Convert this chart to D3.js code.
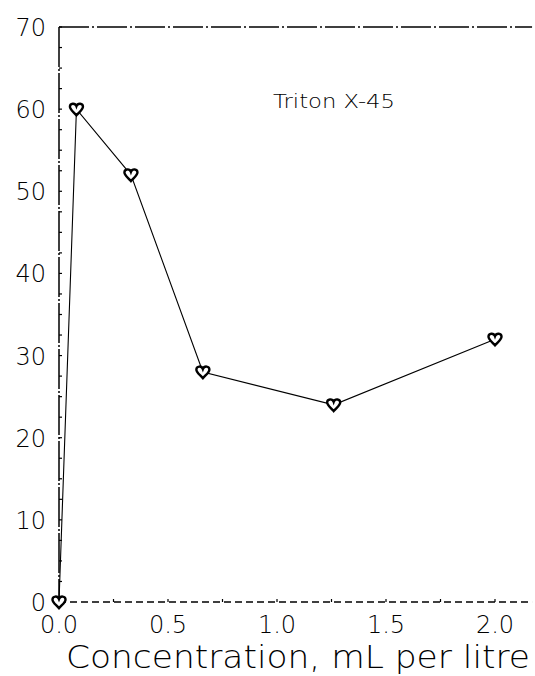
<!DOCTYPE html>
<html><head><meta charset="utf-8">
<script src="https://cdn.jsdelivr.net/npm/d3@7"></script>
<style>html,body{margin:0;padding:0;background:#fff;}svg{display:block;}</style>
</head><body>
<svg id="chart" width="535" height="676"></svg>
<script>
const concentration = [0.0, 0.08, 0.33, 0.66, 1.26, 2.0];
const values = [0, 60, 52, 28, 24, 32];
const xTickValues = [0.0, 0.5, 1.0, 1.5, 2.0];
const xTickLabels = ["0.0", "0.5", "1.0", "1.5", "2.0"];
const yTickValues = [0, 10, 20, 30, 40, 50, 60, 70];
const seriesLabel = "Triton X-45";
const xAxisTitle = "Concentration, mL per litre";

(function () {
const svg = d3.select("#chart");
const mLeft = 59, mTop = 27, mBottom = 602;
const x = d3.scaleLinear().domain([0, 2.0]).range([mLeft, 495]);
const y = d3.scaleLinear().domain([0, 70]).range([mBottom, mTop]);
const xEnd = x(2.17);

// frame
svg.append("line").attr("x1", mLeft).attr("x2", mLeft).attr("y1", mTop).attr("y2", mBottom)
  .attr("stroke", "#000").attr("stroke-width", 1.5).attr("stroke-dasharray", "40,2,2,2");
svg.append("line").attr("x1", mLeft).attr("x2", xEnd).attr("y1", mTop).attr("y2", mTop)
  .attr("stroke", "#000").attr("stroke-width", 1.3).attr("stroke-dasharray", "30,3,2,3");
svg.append("line").attr("x1", mLeft).attr("x2", xEnd).attr("y1", mBottom).attr("y2", mBottom)
  .attr("stroke", "#000").attr("stroke-width", 1.3).attr("stroke-dasharray", "7,4");

// minor ticks
const yMinor = d3.range(0, 70.01, 2.5);
svg.append("g").selectAll("line").data(yMinor).join("line")
  .attr("x1", mLeft).attr("x2", mLeft + 3).attr("y1", d => y(d)).attr("y2", d => y(d))
  .attr("stroke", "#000").attr("stroke-width", 1.2);
const xMinor = d3.range(0, 2.01, 0.25);
svg.append("g").selectAll("line").data(xMinor).join("line")
  .attr("x1", d => x(d)).attr("x2", d => x(d)).attr("y1", mBottom).attr("y2", mBottom - 3)
  .attr("stroke", "#000").attr("stroke-width", 1.2);

const labelFont = "'DejaVu Sans', sans-serif";
svg.append("g").selectAll("text").data(yTickValues).join("text")
  .attr("x", 46).attr("y", d => y(d) + 9).attr("text-anchor", "end")
  .attr("font-family", labelFont).attr("font-weight", 200).attr("font-size", 24)
  .attr("fill", "#000")
  .text(d => d);
svg.append("g").selectAll("text").data(xTickValues).join("text")
  .attr("x", d => x(d)).attr("y", 633).attr("text-anchor", "middle")
  .attr("font-family", labelFont).attr("font-weight", 200).attr("font-size", 24)
  .attr("fill", "#000")
  .text((d, i) => xTickLabels[i]);

// axis title
svg.append("text").attr("x", 66).attr("y", 668)
  .attr("font-family", labelFont).attr("font-weight", 200).attr("font-size", 32)
  .attr("textLength", 464).attr("lengthAdjust", "spacingAndGlyphs")
  .attr("fill", "#000")
  .text(xAxisTitle);

// series label
svg.append("text").attr("x", 273).attr("y", 108)
  .attr("font-family", labelFont).attr("font-weight", 200).attr("font-size", 20)
  .attr("textLength", 122).attr("lengthAdjust", "spacingAndGlyphs")
  .attr("fill", "#000")
  .text(seriesLabel);

// line
const pts = concentration.map((c, i) => [c, values[i]]);
svg.append("path").datum(pts)
  .attr("d", d3.line().x(d => x(d[0])).y(d => y(d[1])))
  .attr("fill", "none").attr("stroke", "#000").attr("stroke-width", 1.1);

// heart markers
const heart = {
  draw(ctx, size) {
    const s = Math.sqrt(size) / 2;
    ctx.moveTo(0, s * 0.95);
    ctx.bezierCurveTo(-s * 0.4, s * 0.45, -s, s * 0.1, -s, -s * 0.35);
    ctx.bezierCurveTo(-s, -s * 0.95, -s * 0.2, -s * 1.0, 0, -s * 0.45);
    ctx.bezierCurveTo(s * 0.2, -s * 1.0, s, -s * 0.95, s, -s * 0.35);
    ctx.bezierCurveTo(s, s * 0.1, s * 0.4, s * 0.45, 0, s * 0.95);
    ctx.closePath();
  }
};
svg.append("g").selectAll("path").data(pts).join("path")
  .attr("transform", d => `translate(${x(d[0])},${y(d[1])})`)
  .attr("d", d3.symbol().type(heart).size(170))
  .attr("fill", "#fff").attr("stroke", "#000").attr("stroke-width", 2.4);
})();
</script>
</body></html>
